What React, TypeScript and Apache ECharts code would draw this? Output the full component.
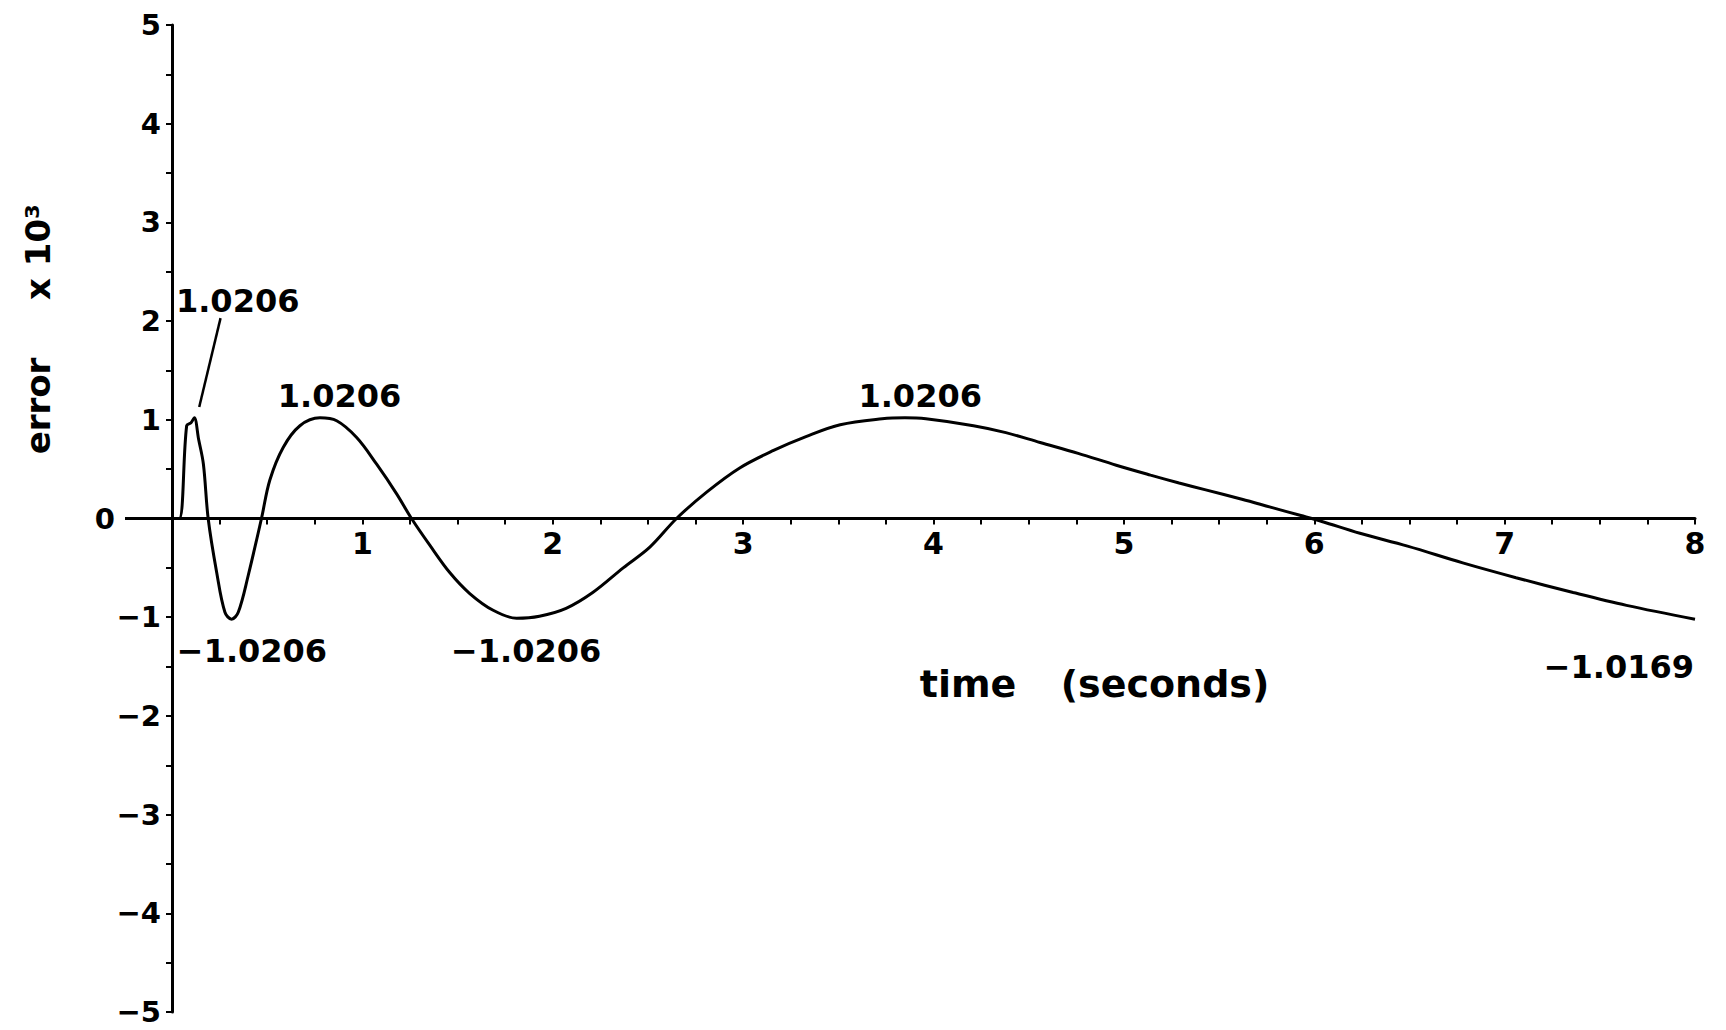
import React, { useEffect, useRef } from "react";
import * as echarts from "echarts";

// time (seconds)
const timeValues = [
  0, 0.038, 0.077, 0.1, 0.117, 0.14, 0.165, 0.19, 0.235, 0.278, 0.313, 0.348, 0.4, 0.47,
  0.514, 0.584, 0.672, 0.777, 0.865, 0.97, 1.075, 1.18, 1.258, 1.354, 1.46, 1.564, 1.687,
  1.81, 1.93, 2.07, 2.21, 2.37, 2.51, 2.65, 2.81, 2.98, 3.16, 3.33, 3.51, 3.73, 3.85, 3.96,
  4.21, 4.38, 4.56, 4.76, 4.96, 5.14, 5.29, 5.43, 5.62, 5.77, 5.93, 6.04, 6.24, 6.49, 6.78,
  7.06, 7.36, 7.64, 8.0,
];
// error x 10^3
const errorValues = [
  0, 0, 0.94, 0.97, 1.02, 0.8, 0.55, 0, -0.55, -0.95, -1.02, -0.95, -0.58, 0,
  0.39, 0.72, 0.94, 1.02, 0.99, 0.82, 0.55, 0.25, 0, -0.27, -0.55, -0.76, -0.93,
  -1.01, -0.99, -0.91, -0.75, -0.5, -0.29, 0, 0.27, 0.51, 0.69, 0.83, 0.95, 1.01, 1.02, 1.01,
  0.94, 0.87, 0.77, 0.66, 0.54, 0.44, 0.36, 0.29, 0.195, 0.115, 0.03, -0.03, -0.15, -0.28, -0.45,
  -0.6, -0.75, -0.88, -1.02,
];

// annotations (data coordinates of label centres)
const annotationTexts = ["1.0206", "1.0206", "1.0206", "\u22121.0206", "\u22121.0206", "\u22121.0169"];
const annotationX = [0.345, 0.88, 3.93, 0.42, 1.86, 7.6];
const annotationY = [2.2, 1.24, 1.24, -1.34, -1.34, -1.5];

// leader line from first label to first peak
const leaderX = [0.255, 0.143];
const leaderY = [2.03, 1.13];

const yMin = -5;
const yMax = 5;
const xMin = 0;
const xMax = 8;

const W = 1726;
const H = 1030;
const GRID = { left: 172, right: 31, top: 25, bottom: 18 };

const FONT = "DejaVu Sans";

export default function App() {
  const ref = useRef<HTMLDivElement>(null);

  useEffect(() => {
    if (!ref.current) return;
    const chart = echarts.init(ref.current, undefined, { renderer: "svg", width: W, height: H });

    const curve = timeValues.map((t, i) => [t, errorValues[i]]);
    const leader = leaderX.map((x, i) => [x, leaderY[i]]);
    const notes = annotationTexts.map((s, i) => [annotationX[i], annotationY[i], s]);

    const gridH = H - GRID.top - GRID.bottom;
    const xAxisOffset = -gridH * ((0 - yMin) / (yMax - yMin));

    const option: any = {
      animation: false,
      backgroundColor: "#ffffff",
      grid: { ...GRID, containLabel: false },
      xAxis: {
        type: "value",
        position: "bottom",
        offset: xAxisOffset,
        min: xMin,
        max: xMax,
        interval: 0.25,
        axisLine: { show: true, onZero: false, lineStyle: { color: "#000", width: 3 } },
        axisTick: { show: true, inside: false, length: 6, lineStyle: { color: "#000", width: 2 } },
        axisLabel: {
          show: true,
          margin: 10,
          color: "#000",
          fontFamily: FONT,
          fontWeight: "bold",
          fontSize: 30,
          formatter: (v: number) => {
            const r = Math.round(v);
            if (Math.abs(v - r) > 1e-6 || r === 0) return "";
            return String(r);
          },
        },
        splitLine: { show: false },
      },
      yAxis: {
        type: "value",
        min: yMin,
        max: yMax,
        interval: 0.5,
        axisLine: { show: true, onZero: false, lineStyle: { color: "#000", width: 3 } },
        axisTick: { show: true, inside: false, length: 6, lineStyle: { color: "#000", width: 2 } },
        axisLabel: {
          show: true,
          margin: 11,
          color: "#000",
          fontFamily: FONT,
          fontWeight: "bold",
          fontSize: 29,
          formatter: (v: number) => {
            const r = Math.round(v);
            if (Math.abs(v - r) > 1e-6) return "";
            if (r === 0) return "{z|0}";
            return r < 0 ? "\u2212" + String(-r) : String(r);
          },
          rich: {
            z: { padding: [0, 46, 0, 0], fontFamily: FONT, fontWeight: "bold", fontSize: 29, color: "#000" },
          },
        },
        splitLine: { show: false },
      },
      series: [
        {
          type: "line",
          data: curve,
          smooth: 0.35,
          symbol: "none",
          lineStyle: { color: "#000", width: 3 },
          silent: true,
          z: 3,
        },
        {
          type: "line",
          data: leader,
          symbol: "none",
          lineStyle: { color: "#000", width: 2.5 },
          silent: true,
        },
        {
          type: "scatter",
          data: notes,
          symbolSize: 0,
          silent: true,
          itemStyle: { color: "#000", opacity: 1 },
          label: {
            show: true,
            position: "inside",
            formatter: (p: any) => p.value[2],
            color: "#000",
            opacity: 1,
            textBorderWidth: 0,
            fontFamily: FONT,
            fontWeight: "bold",
            fontSize: 32,
          },
        },
      ],
    };

    chart.setOption(option);

    const origin = chart.convertToPixel({ xAxisIndex: 0, yAxisIndex: 0 }, [0, 0]) as number[];

    const textStyle = (text: string, size: number) => ({
      text,
      fontFamily: FONT,
      fontWeight: "bold",
      fontSize: size,
      fill: "#000",
      align: "center",
      verticalAlign: "middle",
      textAlign: "center",
      textVerticalAlign: "middle",
    });

    chart.setOption({
      graphic: [
        {
          type: "line",
          shape: { x1: origin[0] - 47, y1: origin[1], x2: origin[0], y2: origin[1] },
          style: { stroke: "#000", lineWidth: 3 },
          silent: true,
        },
        { type: "text", x: 38, y: 406, rotation: Math.PI / 2, style: textStyle("error", 34), silent: true },
        { type: "text", x: 38, y: 252, rotation: Math.PI / 2, style: textStyle("x 10\u00b3", 34), silent: true },
        { type: "text", x: 968, y: 684, style: textStyle("time", 38), silent: true },
        { type: "text", x: 1165, y: 684, style: textStyle("(seconds)", 38), silent: true },
      ],
    });

    return () => {
      chart.dispose();
    };
  }, []);

  return (
    <div
      ref={ref}
      style={{ position: "absolute", left: 0, top: 0, width: W, height: H, background: "#fff" }}
    />
  );
}
